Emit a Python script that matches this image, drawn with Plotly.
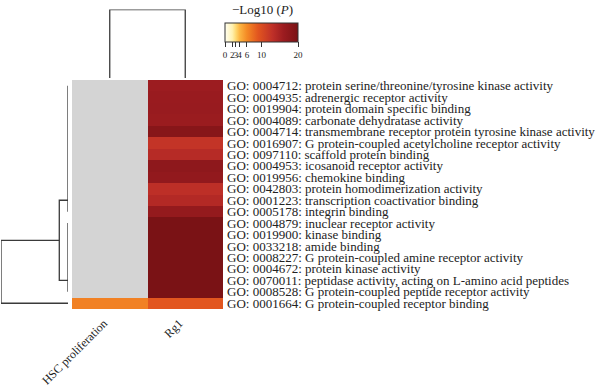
import plotly.graph_objects as go
import numpy as np

W, H = 600, 390

# ---------------- data ----------------
go_terms = [
    "GO: 0004712: protein serine/threonine/tyrosine kinase activity",
    "GO: 0004935: adrenergic receptor activity",
    "GO: 0019904: protein domain specific binding",
    "GO: 0004089: carbonate dehydratase activity",
    "GO: 0004714: transmembrane receptor protein tyrosine kinase activity",
    "GO: 0016907: G protein-coupled acetylcholine receptor activity",
    "GO: 0097110: scaffold protein binding",
    "GO: 0004953: icosanoid receptor activity",
    "GO: 0019956: chemokine binding",
    "GO: 0042803: protein homodimerization activity",
    "GO: 0001223: transcription coactivatior binding",
    "GO: 0005178: integrin binding",
    "GO: 0004879: inuclear receptor activity",
    "GO: 0019900: kinase binding",
    "GO: 0033218: amide binding",
    "GO: 0008227: G protein-coupled amine receptor activity",
    "GO: 0004672: protein kinase activity",
    "GO: 0070011: peptidase activity, acting on L-amino acid peptides",
    "GO: 0008528: G protein-coupled peptide receptor activity",
    "GO: 0001664: G protein-coupled receptor binding",
]
samples = ["HSC proliferation", "Rg1"]

# -log10(P); None = not enriched (grey)
hsc_values = [None] * 19 + [6.5]
rg1_values = [16.0, 16.3, 16.5, 16.2, 18.5, 12.6, 13.8, 17.6, 17.2, 13.2,
              14.0, 17.0, 20, 20, 20, 20, 20, 20, 20, 9.0]

cbar_ticks = [0, 2, 3, 4, 6, 10, 20]
cbar_title = "\u2212Log10 (<i>P</i>)"

# dendrogram links (row index / column index, height)
left_link_rows = [[0, 11], [12, 18], [10, 10, 17, 17], [13.5, 13.5, 19, 19]]
left_link_heights = [[0, 0], [0, 0], [0, 0.39, 0.39, 0], [0.39, 3.0, 3.0, 0]]
top_link_cols = [[0, 0, 1, 1]]
top_link_heights = [[0, 1, 1, 0]]

# ---------------- figure ----------------
def px_x(p):
    return p / W

def px_y(p):
    return 1 - p / H

colorscale = [
    [0.00, "#fffff2"],
    [0.10, "#fff1b0"],
    [0.15, "#fed870"],
    [0.20, "#fcb643"],
    [0.30, "#f48a25"],
    [0.45, "#e2561f"],
    [0.65, "#bf3028"],
    [0.80, "#9c1c20"],
    [1.00, "#7a1215"],
]

z = [[h, r] for h, r in zip(hsc_values, rg1_values)]
z_na = [[1 if v is None else None for v in row] for row in z]
z_main = [[np.nan if v is None else v for v in row] for row in z]

fig = go.Figure()

fig.add_trace(go.Heatmap(
    z=z_na, x=samples, y=go_terms,
    colorscale=[[0, "#d4d4d4"], [1, "#d4d4d4"]],
    showscale=False, hoverinfo="skip",
    xaxis="x", yaxis="y",
))
fig.add_trace(go.Heatmap(
    z=z_main, x=samples, y=go_terms,
    colorscale=colorscale, zmin=0, zmax=20,
    xaxis="x", yaxis="y",
    colorbar=dict(
        orientation="h",
        x=px_x(225), xanchor="left",
        y=px_y(22.5), yanchor="top",
        len=73, lenmode="pixels",
        thickness=19,
        xpad=0, ypad=0,
        outlinewidth=1, outlinecolor="#333",
        tickmode="array", tickvals=cbar_ticks,
        ticktext=[str(t) for t in cbar_ticks],
        tickangle=0,
        ticks="outside", ticklen=5, tickcolor="#333",
        tickfont=dict(family="Liberation Serif", size=9, color="#222"),
    ),
))

line_style = dict(color="#3a3a3a", width=1.3)
for rows, hts in zip(left_link_rows, left_link_heights):
    fig.add_trace(go.Scatter(x=hts, y=rows, mode="lines", line=line_style,
                             xaxis="x2", yaxis="y2", hoverinfo="skip",
                             showlegend=False))
for cols, hts in zip(top_link_cols, top_link_heights):
    fig.add_trace(go.Scatter(x=cols, y=hts, mode="lines", line=line_style,
                             xaxis="x3", yaxis="y3", hoverinfo="skip",
                             showlegend=False))

hm_x = [px_x(72), px_x(223)]
hm_y = [px_y(309), px_y(80)]

fig.add_annotation(
    text=cbar_title, x=px_x(262), y=px_y(9), xref="paper", yref="paper",
    xanchor="center", yanchor="middle", showarrow=False,
    font=dict(family="Liberation Serif", size=13, color="#222"),
)

fig.update_layout(
    width=W, height=H,
    margin=dict(l=0, r=0, t=0, b=0, autoexpand=False),
    paper_bgcolor="white", plot_bgcolor="rgba(0,0,0,0)",
    showlegend=False,
    xaxis=dict(domain=hm_x, tickangle=-45, showgrid=False, zeroline=False,
               showline=False, ticks="", automargin=False,
               ticklabelstandoff=4, ticklabelshift=-6,
               tickfont=dict(family="Liberation Serif", size=12, color="#222")),
    yaxis=dict(domain=hm_y, autorange="reversed", side="right",
               showgrid=False, zeroline=False, showline=False, ticks="",
               automargin=False, dtick=1, ticklabelstandoff=3,
               tickfont=dict(family="Liberation Serif", size=13, color="#222")),
    xaxis2=dict(domain=[px_x(1), px_x(68)], range=[3.0, 0], visible=False),
    yaxis2=dict(domain=hm_y, range=[19.5, -0.5], visible=False, anchor="x2"),
    xaxis3=dict(domain=hm_x, range=[-0.5, 1.5], visible=False, anchor="y3"),
    yaxis3=dict(domain=[px_y(78), px_y(9.5)], range=[0, 1], visible=False,
                anchor="x3"),
)

fig.write_html("out.html", post_script="document.body.style.margin='0';",
               config={"displayModeBar": False})
